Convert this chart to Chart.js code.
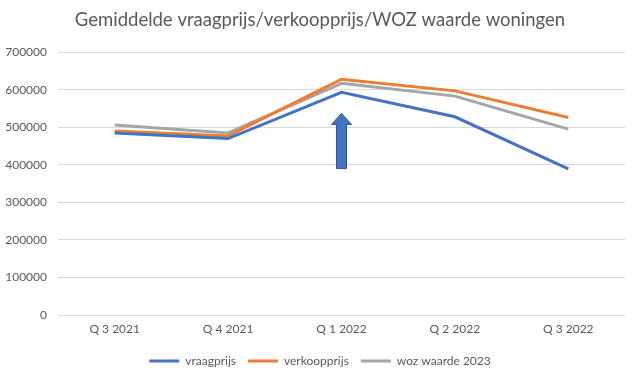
<!DOCTYPE html>
<html>
<head>
<meta charset="utf-8">
<script src="https://cdn.jsdelivr.net/npm/chart.js@4"></script>
<style>
  body { margin: 0; background: #fff; }
  #wrap { width: 640px; height: 380px; }
</style>
</head>
<body>
<div id="wrap"><canvas id="lijn"></canvas></div>
<script>
"use strict";

const kwartalen = ["Q 3 2021", "Q 4 2021", "Q 1 2022", "Q 2 2022", "Q 3 2022"];
const vraagprijs = [485000, 470000, 593000, 528000, 389000];
const verkoopprijs = [490000, 477000, 628000, 597000, 526000];
const wozWaarde = [506000, 485000, 617000, 583000, 495000];
const yTicks = [0, 100000, 200000, 300000, 400000, 500000, 600000, 700000];

// pijl bij Q 1 2022 (van/tot waarde)
const pijlKwartaal = "Q 1 2022";
const pijlVan = 390000;
const pijlTot = 537000;

const tekstKleur = "#595959";
const lettertype = "Lato, 'Open Sans', sans-serif";

const pijlPlugin = {
    id: "pijl",
    afterDatasetsDraw(chart) {
        const ctx = chart.ctx;
        const x = chart.scales.x.getPixelForValue(kwartalen.indexOf(pijlKwartaal));
        const yTop = chart.scales.y.getPixelForValue(pijlTot);
        const yBot = chart.scales.y.getPixelForValue(pijlVan);
        const schacht = 5, kop = 10, kopH = 11;
        ctx.save();
        ctx.beginPath();
        ctx.moveTo(x, yTop);
        ctx.lineTo(x + kop, yTop + kopH);
        ctx.lineTo(x + schacht, yTop + kopH);
        ctx.lineTo(x + schacht, yBot);
        ctx.lineTo(x - schacht, yBot);
        ctx.lineTo(x - schacht, yTop + kopH);
        ctx.lineTo(x - kop, yTop + kopH);
        ctx.closePath();
        ctx.fillStyle = "#4472C4";
        ctx.fill();
        ctx.strokeStyle = "#2F528F";
        ctx.lineWidth = 1;
        ctx.stroke();
        ctx.restore();
    }
};

function lijn(label, data, kleur) {
    return {
        label: label,
        data: data,
        borderColor: kleur,
        backgroundColor: kleur,
        borderWidth: 3,
        pointRadius: 0,
        pointHoverRadius: 0,
        tension: 0
    };
}

new Chart(document.getElementById("lijn"), {
    type: "line",
    data: {
        labels: kwartalen,
        datasets: [
            lijn("vraagprijs", vraagprijs, "#4472C4"),
            lijn("verkoopprijs", verkoopprijs, "#ED7D31"),
            lijn("woz waarde 2023", wozWaarde, "#A5A5A5")
        ]
    },
    options: {
        responsive: true,
        maintainAspectRatio: false,
        animation: false,
        layout: { padding: { left: 0, right: 0, top: 4, bottom: 3 } },
        plugins: {
            tooltip: { enabled: false },
            title: {
                display: true,
                text: "Gemiddelde vraagprijs/verkoopprijs/WOZ waarde woningen",
                color: tekstKleur,
                font: { family: lettertype, size: 18.5, weight: "normal" },
                padding: { top: 5, bottom: 21 }
            },
            legend: {
                position: "bottom",
                labels: {
                    color: tekstKleur,
                    font: { family: lettertype, size: 12 },
                    usePointStyle: true,
                    pointStyle: "line",
                    pointStyleWidth: 30,
                    padding: 12
                }
            }
        },
        scales: {
            x: {
                offset: true,
                grid: { display: false, drawTicks: false },
                border: { display: false },
                ticks: {
                    color: tekstKleur,
                    font: { family: lettertype, size: 12, lineHeight: 1 },
                    padding: 8,
                    maxRotation: 0
                }
            },
            y: {
                min: 0,
                max: 700000,
                afterBuildTicks(scale) {
                    scale.ticks = yTicks.map(v => ({ value: v }));
                },
                afterFit(scale) {
                    scale.width = 58;
                },
                grid: { color: "#D9D9D9", lineWidth: 1, drawTicks: false },
                border: { display: false },
                ticks: {
                    color: tekstKleur,
                    font: { family: lettertype, size: 12 },
                    padding: 11,
                    callback: v => String(v)
                }
            },
            // lege ruimte rechts van het plotgebied
            rechts: {
                position: "right",
                grid: { display: false, drawTicks: false },
                border: { display: false },
                ticks: { display: false },
                afterFit(scale) {
                    scale.width = 15;
                }
            }
        }
    },
    plugins: [pijlPlugin]
});
</script>
</body>
</html>
